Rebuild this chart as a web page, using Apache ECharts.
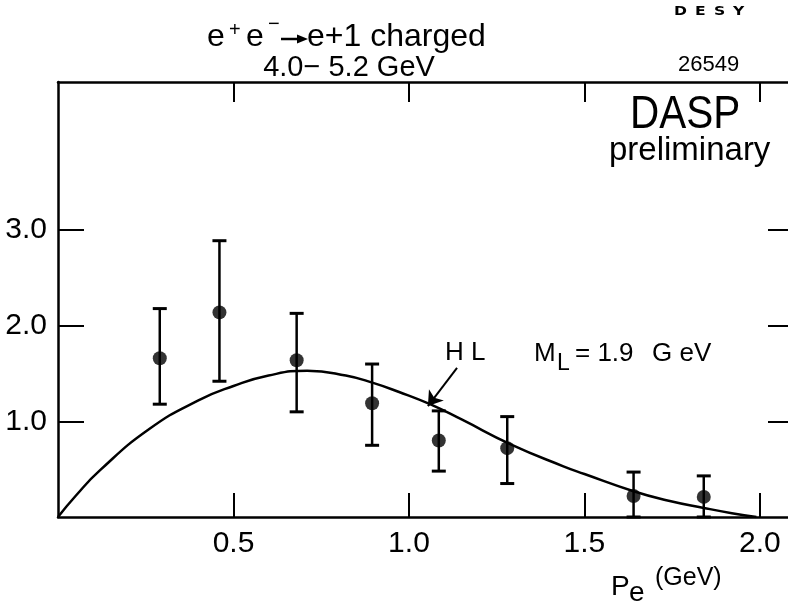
<!DOCTYPE html>
<html>
<head>
<meta charset="utf-8">
<script src="https://cdn.jsdelivr.net/npm/echarts@6/dist/echarts.min.js"></script>
<style>
  html, body { margin: 0; padding: 0; background: #fff; }
  #chart { width: 788px; height: 612px; }
</style>
</head>
<body>
<div id="chart"></div>
<script>
// Electron momentum spectrum, e+e- -> e + 1 charged, 4.0-5.2 GeV
const pe = [0.29, 0.46, 0.68, 0.895, 1.085, 1.28, 1.64, 1.84];
const rate = [1.66, 2.14, 1.64, 1.19, 0.80, 0.72, 0.22, 0.21];
const errLow = [1.18, 1.42, 1.10, 0.75, 0.48, 0.35, 0.00, 0.00];
const errHigh = [2.18, 2.89, 2.13, 1.60, 1.11, 1.05, 0.47, 0.43];

// Heavy lepton prediction, M_L = 1.9 GeV
const curveP = [0, 0.05, 0.12, 0.26, 0.40, 0.50, 0.60, 0.71, 0.82, 0.90, 0.97, 1.06, 1.15, 1.29, 1.44, 1.50, 1.64, 1.74, 1.84, 1.92, 1.99];
const curveY = [0, 0.22, 0.49, 0.92, 1.22, 1.37, 1.48, 1.53, 1.48, 1.40, 1.31, 1.18, 1.02, 0.76, 0.53, 0.45, 0.27, 0.17, 0.095, 0.04, 0];

const xTicks = [0.5, 1.0, 1.5, 2.0];
const yTicks = [1.0, 2.0, 3.0];

// HL pointer: tail and head in data units
const hlArrowFrom = [1.137, 1.56];
const hlArrowTo = [1.054, 1.16];

const FONT = '"Liberation Sans", Arial, sans-serif';
const INK = '#000';

const chart = echarts.init(document.getElementById('chart'), null, { renderer: 'canvas' });

function txt(text, x, y, size, extra) {
  return Object.assign({
    type: 'text',
    style: Object.assign({
      text: text, x: x, y: y,
      font: size + 'px ' + FONT,
      fill: INK,
      textAlign: 'left',
      textVerticalAlign: 'middle'
    }, (extra && extra.style) || {})
  }, (extra && extra.el) || {});
}

function stamp(ch, x) {
  return txt(ch, x, 12, 12, {
    style: { font: 'bold 12px "DejaVu Sans", sans-serif' },
    el: { scaleX: 1.3, originX: x, originY: 12 }
  });
}

const option = {
  animation: false,
  backgroundColor: '#fff',
  grid: { left: 58, right: 0, top: 82, bottom: 95, containLabel: false },
  xAxis: [
    {
      type: 'value', position: 'bottom', min: 0, max: 2.08,
      axisLine: { show: true, onZero: false, lineStyle: { color: INK, width: 2.5 } },
      axisTick: { show: true, inside: true, length: 24, customValues: xTicks, lineStyle: { color: INK, width: 2 } },
      axisLabel: {
        show: true, customValues: xTicks, margin: 12, color: INK,
        fontSize: 30, fontFamily: FONT,
        formatter: v => v.toFixed(1)
      },
      splitLine: { show: false }
    },
    {
      type: 'value', position: 'top', min: 0, max: 2.08,
      axisLine: { show: true, onZero: false, lineStyle: { color: INK, width: 2.5 } },
      axisTick: { show: true, inside: true, length: 20, customValues: xTicks, lineStyle: { color: INK, width: 2 } },
      axisLabel: { show: false },
      splitLine: { show: false }
    }
  ],
  yAxis: [
    {
      type: 'value', position: 'left', min: 0, max: 4.55,
      axisLine: { show: true, onZero: false, lineStyle: { color: INK, width: 2.5 } },
      axisTick: { show: true, inside: true, length: 26, customValues: yTicks, lineStyle: { color: INK, width: 2 } },
      axisLabel: {
        show: true, customValues: yTicks, margin: 11, color: INK,
        fontSize: 30, fontFamily: FONT,
        formatter: v => v.toFixed(1)
      },
      splitLine: { show: false }
    },
    {
      type: 'value', position: 'right', min: 0, max: 4.55,
      axisLine: { show: false, onZero: false },
      axisTick: { show: true, inside: true, length: 20, customValues: yTicks, lineStyle: { color: INK, width: 2 } },
      axisLabel: { show: false },
      splitLine: { show: false }
    }
  ],
  series: [
    {
      name: 'HL',
      type: 'line',
      data: curveP.map((p, i) => [p, curveY[i]]),
      smooth: 0.5,
      showSymbol: false,
      lineStyle: { color: INK, width: 2.5 },
      markLine: {
        silent: true,
        symbol: ['none', 'arrow'],
        symbolSize: 14,
        label: { show: false },
        lineStyle: { color: INK, width: 2, type: 'solid' },
        data: [[{ coord: hlArrowFrom }, { coord: hlArrowTo }]]
      },
      z: 3
    },
    {
      name: 'errors',
      type: 'custom',
      data: pe.map((p, i) => [p, errLow[i], errHigh[i]]),
      renderItem: function (params, api) {
        const x = api.value(0);
        const lo = api.coord([x, api.value(1)]);
        const hi = api.coord([x, api.value(2)]);
        const w = 7;
        return {
          type: 'group',
          children: [
            { type: 'line', shape: { x1: lo[0], y1: lo[1], x2: hi[0], y2: hi[1] }, style: { stroke: INK, lineWidth: 2.5 } },
            { type: 'line', shape: { x1: lo[0] - w, y1: lo[1], x2: lo[0] + w, y2: lo[1] }, style: { stroke: INK, lineWidth: 3 } },
            { type: 'line', shape: { x1: hi[0] - w, y1: hi[1], x2: hi[0] + w, y2: hi[1] }, style: { stroke: INK, lineWidth: 3 } }
          ]
        };
      },
      z: 4
    },
    {
      name: 'data',
      type: 'scatter',
      data: pe.map((p, i) => [p, rate[i]]),
      symbol: 'circle',
      symbolSize: 14,
      itemStyle: { color: INK },
      z: 5
    }
  ],
  graphic: [
    // title line 1: e+ e- -> e + 1 charged
    txt('e', 207, 37, 32),
    txt('+', 229, 30, 20),
    txt('e', 246, 37, 32),
    txt('\u2212', 268, 24, 20),
    { type: 'line', shape: { x1: 281, y1: 39, x2: 299, y2: 39 }, style: { stroke: INK, lineWidth: 2.5 } },
    { type: 'polygon', shape: { points: [[297, 34.5], [308, 39], [297, 43.5]] }, style: { fill: INK } },
    txt('e+1 charged', 307, 37, 32),
    // title line 2
    txt('4.0\u2212 5.2 GeV', 349, 68, 29, { style: { textAlign: 'center' } }),
    // lab stamp
    stamp('D', 674),
    stamp('E', 695),
    stamp('S', 714),
    stamp('Y', 733),
    txt('26549', 678, 65, 22),
    // experiment tag
    txt('DASP', 630, 115.5, 46, { el: { scaleX: 0.88, originX: 630, originY: 115.5 } }),
    txt('preliminary', 609, 150.6, 33),
    // curve annotation
    txt('H L', 445, 352.5, 26),
    txt('M', 534, 354, 26),
    txt('L', 557, 363.5, 23),
    txt('= 1.9', 575, 354, 26),
    txt('G eV', 652, 354, 26),
    // x axis title
    txt('P', 611, 587, 28),
    txt('e', 629, 593, 28),
    txt('(GeV)', 655, 578, 25)
  ]
};

chart.setOption(option);
</script>
</body>
</html>
